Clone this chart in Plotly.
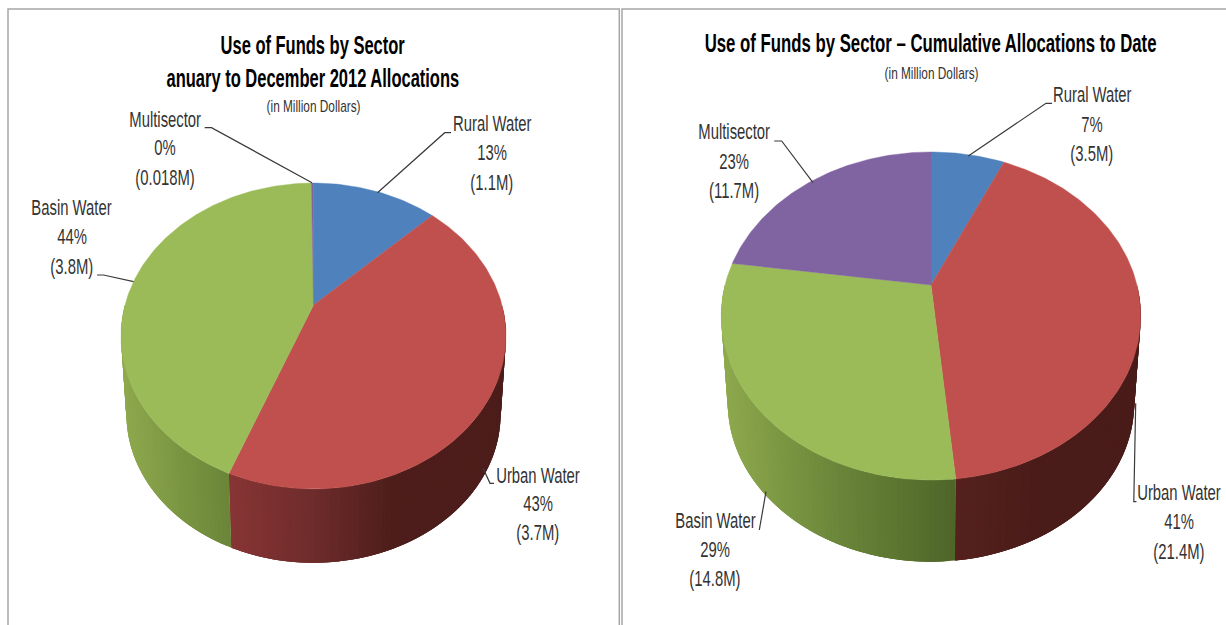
import numpy as np
import plotly.graph_objects as go

# ---- data (million dollars) ----
sectors = ["Rural Water", "Urban Water", "Basin Water", "Multisector"]
alloc_2012 = [1.1, 3.72, 3.78, 0.018]
alloc_cumulative = [3.5, 21.4, 14.8, 11.7]
pct_2012 = ["13%", "43%", "44%", "0%"]
pct_cumulative = ["7%", "41%", "29%", "23%"]
amount_2012 = ["(1.1M)", "(3.7M)", "(3.8M)", "(0.018M)"]
amount_cumulative = ["(3.5M)", "(21.4M)", "(14.8M)", "(11.7M)"]

# ---- style ----
FONT = "Liberation Sans"
top_colors = ["#4F81BD", "#C0504D", "#9BBB59", "#8064A2"]
green_stops = [(0.0, (142, 169, 77)), (0.28, (107, 134, 57)), (0.56, (78, 102, 41)), (1.0, (78, 102, 41))]
side_left = {
    1: [(0.0, (150, 60, 58)), (0.28, (135, 53, 52)), (0.52, (108, 43, 42)), (0.72, (76, 29, 26)), (1.0, (76, 29, 26))],
    2: green_stops,
}
side_right = {
    1: [(0.0, (86, 33, 30)), (0.55, (86, 33, 30)), (0.75, (74, 28, 25)), (1.0, (74, 28, 25))],
    2: green_stops,
}

# projection parameters of each 3-D pie, in page pixels
geom_left = dict(cx=313.5, ay=305, A=188.5, B=146.7, k=0.2026, drop=79, shrink=0.972, side=side_left)
geom_right = dict(cx=931, ay=285, A=206, B=158.2, k=0.189, drop=87.7, shrink=0.969, side=side_right)


def project(g, theta, lower=False):
    x, y = np.sin(theta), np.cos(theta)
    w = 1 + g["k"] * y
    px, py = g["A"] * x / w, -g["B"] * y / w
    if lower:
        return g["cx"] + px * g["shrink"], g["ay"] + g["drop"] + py * g["shrink"]
    return g["cx"] + px, g["ay"] + py


def side_color(stops, t):
    xs = [s[0] for s in stops]
    rgb = [np.interp(t, xs, [s[1][c] for s in stops]) for c in range(3)]
    return "rgb(%d,%d,%d)" % tuple(round(v) for v in rgb)


def poly(fig, xs, ys, color, width=0.0):
    fig.add_trace(go.Scatter(x=xs, y=ys, mode="lines", fill="toself", fillcolor=color,
                             line=dict(color=color, width=width), hoverinfo="skip", showlegend=False))


def draw_pie(fig, g, values):
    total = sum(values)
    edges = 2 * np.pi * np.concatenate([[0], np.cumsum(values)]) / total
    half = g["A"] * 1.02
    step = np.radians(1.2)
    # side wall, as thin overlapping strips shaded across the width of the pie
    for i in range(len(values)):
        if i not in g["side"]:
            continue
        lo, hi = max(edges[i], np.pi / 2), min(edges[i + 1], 3 * np.pi / 2)
        if hi <= lo:
            continue
        n = max(2, int((hi - lo) / step))
        th = np.linspace(lo, hi, n + 1)
        for j in range(n):
            t0 = np.linspace(th[j], min(th[j] + 3 * step, hi), 5)
            ux, uy = project(g, t0)
            lx, ly = project(g, t0, lower=True)
            t = (project(g, th[j])[0] - (g["cx"] - half)) / (2 * half)
            poly(fig, list(ux) + list(lx[::-1]), list(uy) + list(ly[::-1]), side_color(g["side"][i], t))
    # top face
    for i in range(len(values)):
        a0, a1 = edges[i], edges[i + 1]
        th = np.linspace(a0, a1, max(3, int((a1 - a0) / np.radians(1)) + 1))
        ux, uy = project(g, th)
        poly(fig, [g["cx"]] + list(ux) + [g["cx"]], [g["ay"]] + list(uy) + [g["ay"]], top_colors[i], 0.4)


# ---- page furniture, text placement ----
panels = [(8, 9, 619.3, 640), (622, 9, 1240, 640)]

TITLE, TITLE_R, SUB, LABEL = 25, 26, 16, 22
titles = [
    ("<b>Use of Funds by Sector</b>", 312, 45, TITLE),
    ("<b>anuary to December 2012 Allocations</b>", 313, 78, TITLE),
    ("(in Million Dollars)", 313.5, 106, SUB),
    ("<b>Use of Funds by Sector – Cumulative Allocations to Date</b>", 930, 43, TITLE_R),
    ("(in Million Dollars)", 931, 73, SUB),
]
# horizontal squeeze of the condensed lettering, by font size
squeeze = {TITLE: 0.66, TITLE_R: 0.645, SUB: 0.74, LABEL: 0.675}

# centre x and the y of each of the three label lines
label_pos_left = {0: (492, (123, 152, 182)), 1: (537.5, (475, 503, 532)),
                  2: (71.7, (207, 236, 266)), 3: (164.8, (119, 147, 177))}
label_pos_right = {0: (1092, (94, 124, 153)), 1: (1179, (492, 521, 551)),
                   2: (715, (520, 549, 578)), 3: (734, (131, 161, 190))}

leaders = [
    ([377.5, 444.7, 451], [192.7, 132.7, 132.7]),
    ([204.7, 211.5, 312], [127.7, 127.7, 182.7]),
    ([97, 103.5, 133.6], [275, 275, 281.7]),
    ([483, 490, 494], [468, 483.3, 483.3]),
    ([968.3, 1046, 1052], [156, 103.3, 103.3]),
    ([774.2, 781.7, 813], [141, 141, 182.7]),
    ([766, 759.3], [491.7, 530]),
    ([1135.7, 1133.8, 1136.5], [403.3, 501.7, 501.7]),
]

fig = go.Figure()
draw_pie(fig, geom_left, alloc_2012)
draw_pie(fig, geom_right, alloc_cumulative)

for xs, ys in leaders:
    fig.add_trace(go.Scatter(x=xs, y=ys, mode="lines", line=dict(color="#3a3a3a", width=1.2),
                             hoverinfo="skip", showlegend=False))

annotations = []


def text(s, x, y, size, color="#333333"):
    annotations.append(dict(text=s, x=x, y=y, xref="x", yref="y", showarrow=False,
                            xanchor="center", yanchor="middle",
                            font=dict(family=FONT, size=size, color=color)))


for s, x, y, size in titles:
    text(s, x, y, size, "#000000" if size in (TITLE, TITLE_R) else "#333333")
for positions, pcts, amounts in ((label_pos_left, pct_2012, amount_2012),
                                 (label_pos_right, pct_cumulative, amount_cumulative)):
    for i, name in enumerate(sectors):
        cx, ys = positions[i]
        for s, y in zip((name, pcts[i], amounts[i]), ys):
            text(s, cx, y, LABEL)

shapes = [dict(type="rect", x0=a, y0=b, x1=c, y1=d, xref="x", yref="y",
               line=dict(color="#A6A6A6", width=1.5), fillcolor="rgba(0,0,0,0)", layer="below")
          for a, b, c, d in panels]

fig.update_layout(
    width=1226, height=625, margin=dict(l=0, r=0, t=0, b=0),
    paper_bgcolor="white", plot_bgcolor="white", showlegend=False,
    xaxis=dict(range=[0, 1226], visible=False, fixedrange=True),
    yaxis=dict(range=[625, 0], visible=False, fixedrange=True),
    annotations=annotations, shapes=shapes,
)

squeeze_js = "{" + ",".join(f"{k}:{v}" for k, v in squeeze.items()) + "}"
post = """
document.body.style.margin='0';document.body.style.overflow='hidden';
var sq=%s;
document.querySelectorAll('text.annotation-text').forEach(function(el){
  var fs=Math.round(parseFloat(el.style.fontSize));
  var b=el.getBBox();var cx=b.x+b.width/2;
  el.setAttribute('transform','translate('+cx+' 0) scale('+(sq[fs]||1)+' 1) translate('+(-cx)+' 0)');
});
""" % squeeze_js
fig.write_html("out.html", config=dict(displayModeBar=False), post_script=post)
